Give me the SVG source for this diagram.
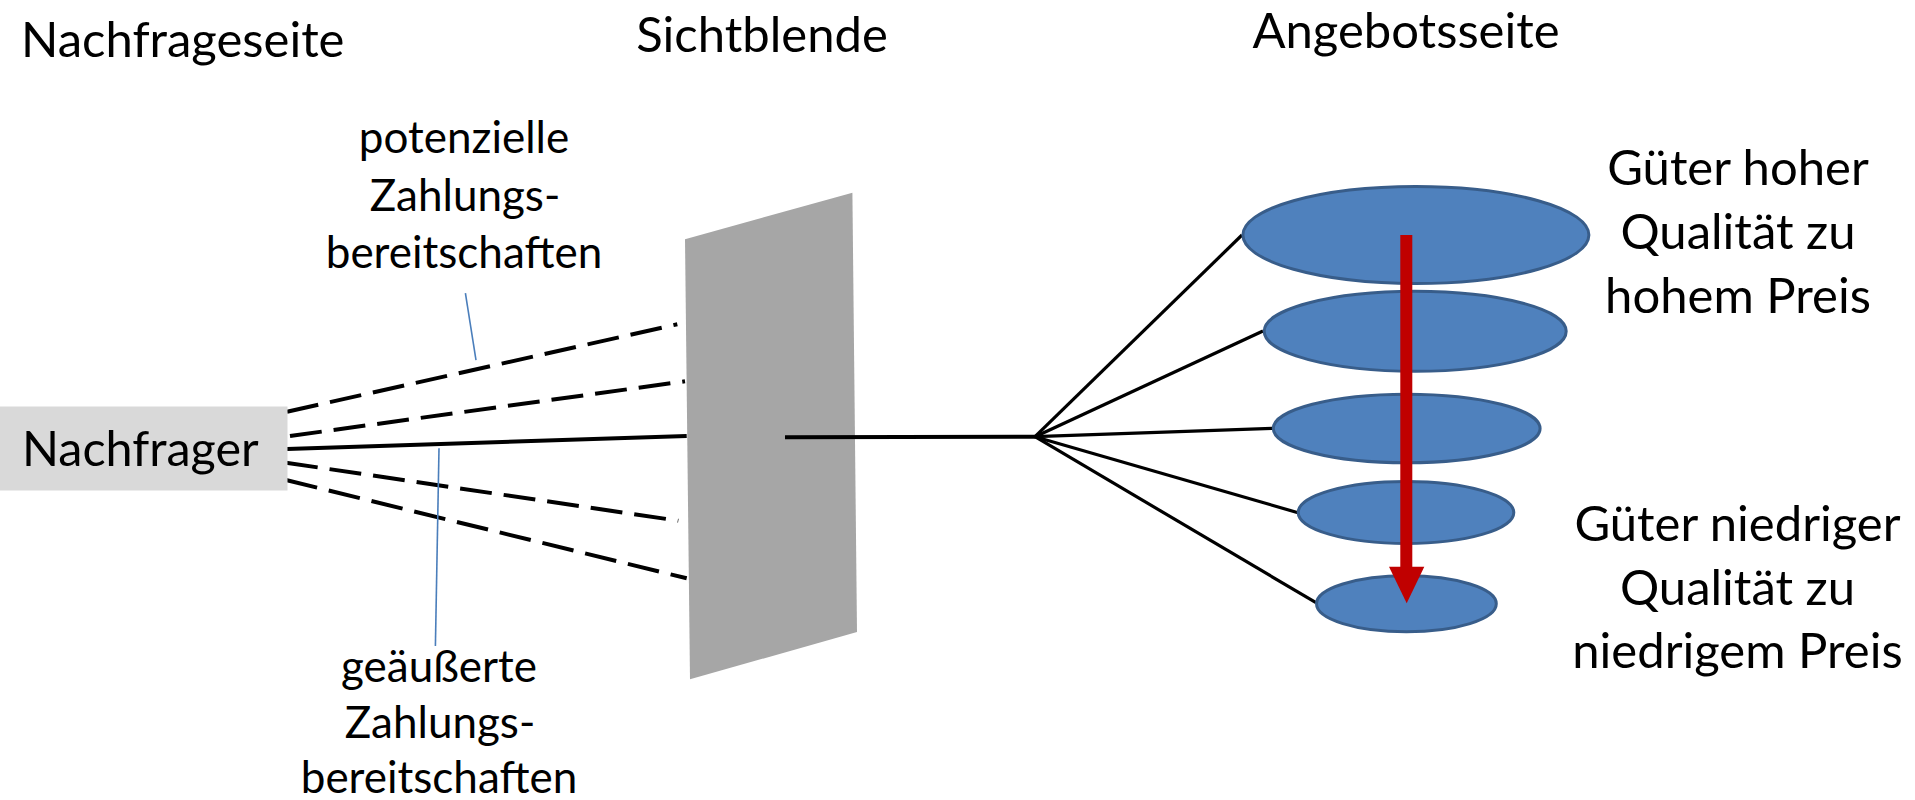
<svg xmlns="http://www.w3.org/2000/svg" width="1915" height="800" viewBox="0 0 1915 800">
  <style>
    text { font-family: Lato, "Liberation Sans", sans-serif; fill: #000; }
    .head { font-size: 49px; }
    .lbl { font-size: 44px; text-anchor: middle; }
    .side { font-size: 49px; text-anchor: middle; }
    .dash { stroke: #000; stroke-width: 4; stroke-dasharray: 32 12; fill: none; }
    .solid { stroke: #000; stroke-width: 4; fill: none; }
    .branch { stroke: #000; stroke-width: 3.2; fill: none; }
    .leader { stroke: #4a7ebb; stroke-width: 1.6; fill: none; }
    .good { fill: #4f81bd; stroke: #385d8a; stroke-width: 3; }
  </style>
  <rect width="1915" height="800" fill="#fff"/>

  <!-- column headings -->
  <g id="headings">
    <text class="head" x="21" y="57">Nachfrageseite</text>
    <text class="head" x="762" y="52" text-anchor="middle">Sichtblende</text>
    <text class="head" x="1406" y="48" text-anchor="middle">Angebotsseite</text>
  </g>

  <!-- connectors -->
  <g id="connectors">
    <line class="dash" x1="287" y1="411.7" x2="677.3" y2="324.3"/>
    <line class="dash" x1="290" y1="436" x2="685" y2="381.3"/>
    <line class="solid" x1="287" y1="449" x2="686.7" y2="436"/>
    <line class="dash" x1="286" y1="462.7" x2="678.3" y2="520.7"/>
    <line class="dash" x1="286" y1="480" x2="686.7" y2="578.3"/>
    <line class="leader" x1="465.4" y1="293" x2="476" y2="360"/>
    <line class="leader" x1="439" y1="448.3" x2="435.4" y2="646"/>
  </g>

  <!-- buyer -->
  <g id="nachfrager">
    <rect x="0" y="406.5" width="287.5" height="84" fill="#d9d9d9"/>
    <text x="22" y="466" font-size="48.5">Nachfrager</text>
  </g>

  <!-- screen -->
  <g id="sichtblende">
    <polygon points="685,239.3 852.4,192.7 857,632 690,679.3" fill="#a6a6a6"/>
  </g>

  <!-- lines from the screen to the supply side -->
  <g id="supply-connectors">
    <line class="solid" x1="785" y1="437.3" x2="1035" y2="436.7" stroke-width="3.6"/>
    <line class="branch" x1="1035" y1="436.7" x2="1242" y2="235"/>
    <line class="branch" x1="1035" y1="436.7" x2="1263" y2="331"/>
    <line class="branch" x1="1035" y1="436.7" x2="1273" y2="428.3"/>
    <line class="branch" x1="1035" y1="436.7" x2="1298" y2="512.7"/>
    <line class="branch" x1="1035" y1="436.7" x2="1316" y2="602.7"/>
  </g>

  <!-- goods of different quality -->
  <g id="gut-1"><ellipse class="good" cx="1415.9" cy="235" rx="173" ry="48.5"/></g>
  <g id="gut-2"><ellipse class="good" cx="1415.2" cy="331.3" rx="151" ry="40"/></g>
  <g id="gut-3"><ellipse class="good" cx="1406.7" cy="428.5" rx="133.4" ry="34.3"/></g>
  <g id="gut-4"><ellipse class="good" cx="1406" cy="512.5" rx="107.8" ry="31"/></g>
  <g id="gut-5"><ellipse class="good" cx="1406.4" cy="603.8" rx="89.9" ry="28"/></g>

  <!-- quality / price arrow -->
  <g id="qualitaetspfeil">
    <line x1="1406.3" y1="235" x2="1406.3" y2="568" stroke="#c00000" stroke-width="12"/>
    <polygon points="1389,566.7 1424.3,566.7 1406.7,603.3" fill="#c00000"/>
  </g>

  <!-- labels -->
  <g id="potenzielle">
    <text class="lbl" x="464" y="153">potenzielle</text>
    <text class="lbl" x="465" y="211">Zahlungs-</text>
    <text class="lbl" x="464" y="268">bereitschaften</text>
  </g>
  <g id="geaeusserte">
    <text class="lbl" x="439" y="682">geäußerte</text>
    <text class="lbl" x="440" y="738">Zahlungs-</text>
    <text class="lbl" x="439" y="793">bereitschaften</text>
  </g>
  <g id="hohe-qualitaet">
    <text class="side" x="1738" y="185">Güter hoher</text>
    <text class="side" x="1738" y="249">Qualität zu</text>
    <text class="side" x="1738" y="313">hohem Preis</text>
  </g>
  <g id="niedrige-qualitaet">
    <text class="side" x="1737.5" y="541">Güter niedriger</text>
    <text class="side" x="1737.5" y="605">Qualität zu</text>
    <text class="side" x="1737.5" y="668">niedrigem Preis</text>
  </g>
</svg>
